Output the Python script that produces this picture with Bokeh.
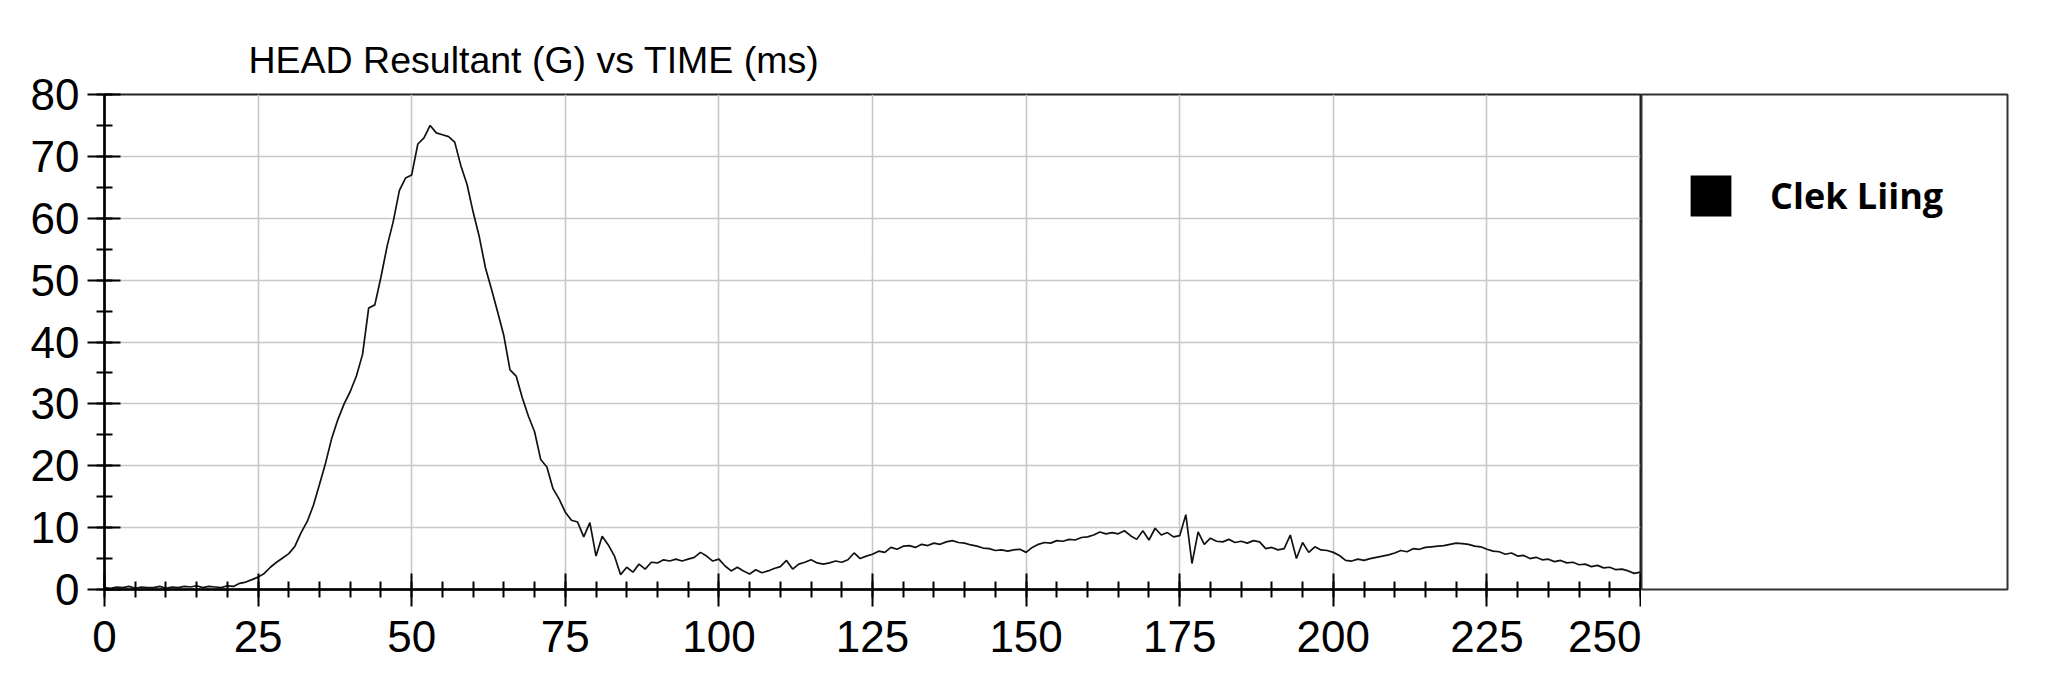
from bokeh.plotting import figure
from bokeh.models import Range1d, SingleIntervalTicker, Legend, LegendItem, ColumnDataSource
from bokeh.layouts import row
from bokeh.embed import file_html
from bokeh.resources import INLINE

# ---- data ----
title_text = "HEAD Resultant (G) vs TIME (ms)"
series_name = "Clek Liing"
time_ms = list(range(0, 251))
head_g = [
    0.3, 0.2, 0.4, 0.3, 0.5, 0.2, 0.4, 0.3, 0.3, 0.5, 0.2, 0.4, 0.3, 0.5, 0.4, 0.6, 0.3, 0.5, 0.4, 0.3, 0.6,
    0.5, 1.0, 1.2, 1.6, 2.0, 2.6, 3.6, 4.4, 5.1, 5.8,
    7.0, 9.2, 11.0, 13.6, 17.0, 20.5, 24.5, 27.5, 30.0, 32.0,
    34.5, 38.0, 45.5, 46.0, 50.5, 55.5, 59.5, 64.5, 66.5, 67.0,
    72.0, 73.0, 75.0, 73.8, 73.5, 73.2, 72.3, 68.5, 65.5, 61.0,
    57.0, 52.0, 48.5, 44.8, 41.0, 35.5, 34.5, 31.0, 28.0, 25.5,
    21.0, 19.8, 16.3, 14.6, 12.5, 11.2, 10.9, 8.5, 10.8, 5.4,
    8.6, 7.2, 5.4, 2.4, 3.6, 2.8, 4.1, 3.3, 4.4, 4.3,
    4.8, 4.6, 4.9, 4.6, 4.9, 5.2, 6.0, 5.4, 4.6, 4.9,
    3.8, 3.0, 3.6, 3.0, 2.5, 3.2, 2.7, 3.0, 3.4, 3.7,
    4.7, 3.3, 4.1, 4.4, 4.8, 4.3, 4.1, 4.3, 4.6, 4.4,
    4.8, 5.9, 5.0, 5.4, 5.7, 6.2, 6.0, 6.8, 6.5, 7.0,
    7.1, 6.8, 7.3, 7.1, 7.5, 7.3, 7.7, 7.9, 7.6, 7.5,
    7.2, 7.0, 6.7, 6.6, 6.3, 6.4, 6.2, 6.4, 6.5, 6.0,
    6.8, 7.3, 7.6, 7.5, 7.9, 7.8, 8.1, 8.0, 8.4, 8.5,
    8.8, 9.3, 9.0, 9.2, 9.0, 9.5, 8.7, 8.1, 9.5, 8.0,
    9.9, 8.8, 9.2, 8.5, 8.7, 12.1, 4.2, 9.3, 7.3, 8.3,
    7.8, 7.7, 8.1, 7.6, 7.8, 7.5, 7.9, 7.7, 6.6, 6.8,
    6.4, 6.6, 8.8, 5.0, 7.6, 6.0, 6.9, 6.4, 6.3, 6.0,
    5.5, 4.7, 4.6, 4.9, 4.7, 5.0, 5.2, 5.4, 5.6, 5.9,
    6.3, 6.1, 6.6, 6.5, 6.8, 6.9, 7.0, 7.1, 7.3, 7.5,
    7.4, 7.3, 7.0, 6.9, 6.5, 6.2, 6.1, 5.7, 5.9, 5.4,
    5.5, 5.0, 5.2, 4.8, 4.9, 4.5, 4.7, 4.3, 4.4, 4.0,
    4.1, 3.7, 3.9, 3.5, 3.6, 3.2, 3.3, 3.0, 2.6, 2.8,
]
x_start, x_end, x_step = 0, 250, 25
y_start, y_end, y_step = 0, 80, 10

src = ColumnDataSource(data=dict(time=time_ms, g=head_g))

# ---- main plot ----
p = figure(width=1641, height=689, x_range=Range1d(x_start, x_end), y_range=Range1d(y_start, y_end),
           output_backend="svg", toolbar_location=None,
           min_border_left=104, min_border_right=1, min_border_top=94, min_border_bottom=100)
p.background_fill_color = "white"
p.border_fill_color = "white"
p.outline_line_color = "#222222"
p.outline_line_width = 2

p.title.text = title_text
p.title.align = "left"
p.title.offset = 144
p.title.standoff = 28
p.title.text_font = "Liberation Sans"
p.title.text_font_size = "37.5px"
p.title.text_font_style = "normal"
p.title.text_color = "black"

p.xaxis.ticker = SingleIntervalTicker(interval=x_step, num_minor_ticks=5)
p.yaxis.ticker = SingleIntervalTicker(interval=y_step, num_minor_ticks=2)
for ax in (p.xaxis[0], p.yaxis[0]):
    ax.axis_line_color = "black"
    ax.axis_line_width = 2.5
    ax.major_tick_line_color = "black"
    ax.major_tick_line_width = 2
    ax.minor_tick_line_color = "black"
    ax.minor_tick_line_width = 2
    ax.major_tick_in = 16
    ax.major_tick_out = 17
    ax.minor_tick_in = 8
    ax.minor_tick_out = 8
    ax.major_label_text_font = "Liberation Sans"
    ax.major_label_text_font_size = "44px"
    ax.major_label_text_color = "black"
p.xaxis.major_label_standoff = 14
p.yaxis.major_label_standoff = 8

p.grid.grid_line_color = "#c8c8c8"
p.grid.grid_line_width = 1.6

p.line(x="time", y="g", source=src, line_color="#111111", line_width=1.7)

# ---- legend panel ----
p2 = figure(width=370, height=689, output_backend="svg", toolbar_location=None,
            x_axis_location=None, y_axis_location=None,
            min_border_left=0, min_border_right=4, min_border_top=94, min_border_bottom=100)
p2.grid.visible = False
p2.outline_line_color = "#333333"
p2.outline_line_width = 2
p2.border_fill_color = "white"
# legend swatch: a filled-area renderer of the series, not drawn itself (only its legend glyph shows)
swatch = p2.varea(x="time", y1="g", y2="g", source=src, fill_color="black", visible=False)
legend = Legend(items=[LegendItem(label=series_name, renderers=[swatch])],
                location=(44, 368), border_line_color=None, background_fill_alpha=0,
                inactive_fill_alpha=0,
                glyph_width=51, glyph_height=51, label_standoff=34,
                label_text_font="Open Sans", label_text_font_size="36px",
                label_text_font_style="bold", label_text_color="black")
p2.add_layout(legend)

layout = row(p, p2)
open("out.html", "w").write(file_html(layout, INLINE))
